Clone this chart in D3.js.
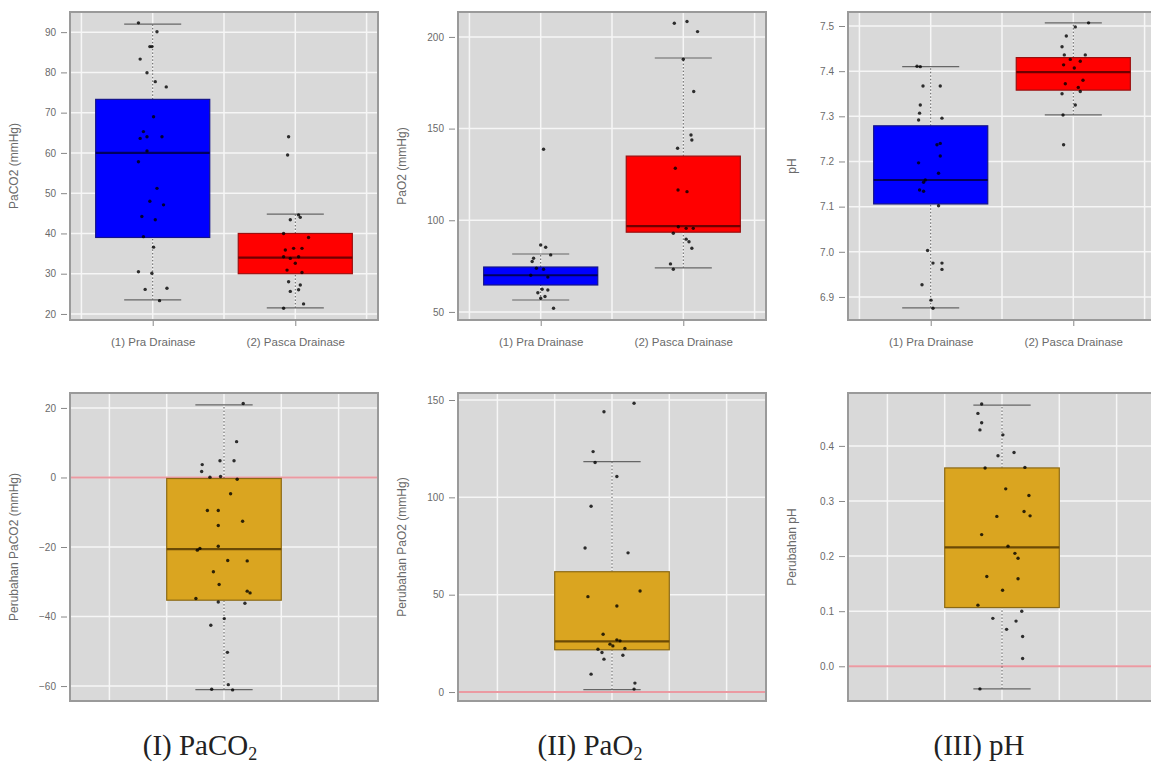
<!DOCTYPE html>
<html>
<head>
<meta charset="utf-8">
<script src="https://cdnjs.cloudflare.com/ajax/libs/d3/7.8.5/d3.min.js"></script>
<style>
body { margin: 0; background: #fff; }
text { font-family: "Liberation Sans", Arial, sans-serif; }
</style>
</head>
<body>
<svg id="chart" width="1151" height="769"></svg>
<script>
// ---- data ----
var groupLabels = ['(1) Pra Drainase', '(2) Pasca Drainase'];
var captions = [['(I) PaCO', '2'], ['(II) PaO', '2'], ['(III) pH', '']];

// box stats: [lower whisker, q1, median, q3, upper whisker]
var paco2PraStats = [23.5, 39, 60, 73.3, 92];
var paco2PascaStats = [21.5, 30, 34, 40, 44.8];
var pao2PraStats = [56.5, 64.7, 70, 74.5, 81.6];
var pao2PascaStats = [74, 93.5, 96.8, 135, 188.5];
var phPraStats = [6.876, 7.106, 7.159, 7.279, 7.41];
var phPascaStats = [7.303, 7.358, 7.398, 7.43, 7.507];
var dPaco2Stats = [-61, -35.3, -20.6, -0.3, 20.9];
var dPao2Stats = [1.2, 21.7, 26, 61.8, 118.4];
var dPhStats = [-0.041, 0.1066, 0.216, 0.36, 0.474];

// jittered points: [jitter (x units), value]
var paco2PraPts = [[-0.10,92.3],[0.03,90.1],[-0.005,86.4],[-0.02,86.4],[-0.088,83.3],[-0.04,79.9],[0.018,77.7],[0.095,76.4],
  [0.006,69],[-0.065,65.3],[-0.04,64],[0.065,64],[-0.088,63.6],[-0.04,60.5],[-0.1,57.8],[0.03,51.2],[-0.02,48],[0.076,47.1],
  [-0.076,44.2],[0.018,43.4],[-0.065,39.2],[0.006,36.6],[-0.1,30.5],[-0.006,30.1],[-0.053,26.1],[0.1,26.4],[0.048,23.3]];
var paco2PascaPts = [[-0.047,64],[-0.054,59.5],[0.023,44.6],[0.035,44],[-0.035,43.4],[-0.082,40],[0.093,39],[-0.07,35.9],
  [-0.012,36.3],[0.047,36.3],[-0.082,34.2],[-0.035,33.8],[0.023,34.2],[0,32.6],[-0.058,30.9],[0.047,30.3],[-0.047,28],
  [0.035,27.2],[-0.035,25.6],[0.023,26],[-0.082,21.4],[0.058,22.5]];
var pao2PraPts = [[0.02,138.7],[0,86.5],[0.035,85.3],[0.07,81.1],[-0.06,77.5],[-0.05,79.3],[-0.03,73.8],[0.02,73.3],
  [-0.07,70],[0.05,69],[0.01,62.4],[0.05,62],[-0.02,60.5],[0.03,58.4],[0,57.5],[0.09,52]];
var pao2PascaPts = [[-0.063,207.5],[0.026,208.4],[0.1,202.9],[0,187.8],[0.073,170.2],[0.054,146.5],[0.06,143.8],[-0.04,139.3],
  [-0.056,128.4],[-0.037,116.5],[0.026,115.6],[-0.035,96.5],[0.02,95.6],[0.07,95.6],[-0.07,92.9],[0.02,89.7],[0.04,88.3],
  [0.06,84.7],[-0.09,76.2],[-0.07,73.3]];
var phPraPts = [[-0.096,7.411],[-0.073,7.41],[-0.054,7.367],[0.067,7.367],[-0.073,7.325],[-0.078,7.307],[-0.085,7.292],
  [0.079,7.296],[0.067,7.24],[0.044,7.237],[-0.085,7.197],[0.067,7.212],[0.055,7.174],[-0.038,7.159],[-0.05,7.154],
  [-0.078,7.137],[-0.05,7.134],[0.055,7.102],[-0.022,7.003],[0.016,6.975],[0.079,6.975],[0.079,6.961],[-0.061,6.927],
  [0.002,6.893],[0.016,6.875]];
var phPascaPts = [[0.107,7.507],[0.014,7.498],[-0.049,7.478],[-0.079,7.454],[-0.063,7.436],[0.084,7.436],[-0.021,7.426],
  [0.049,7.422],[-0.068,7.414],[0.007,7.407],[0.068,7.38],[-0.056,7.372],[0.035,7.364],[0.049,7.355],[-0.079,7.35],
  [0.014,7.325],[-0.072,7.303],[-0.068,7.237]];
var dPaco2Pts = [[0.067,21.3],[0.044,10.3],[-0.014,4.8],[0.035,4.8],[-0.076,3.7],[-0.078,1.7],[-0.049,0.1],[-0.012,0.3],
  [0.046,-0.5],[0.023,-4.7],[-0.058,-9.5],[-0.02,-9.5],[-0.02,-13.8],[0.065,-12.6],[-0.084,-20.4],[-0.093,-20.9],
  [-0.02,-19.8],[0.013,-23.9],[0.081,-24],[-0.037,-27.1],[-0.017,-30.8],[0.081,-32.7],[0.091,-33.2],[-0.098,-34.8],
  [-0.02,-35.8],[0.073,-36.2],[0.001,-40.6],[-0.046,-42.5],[0.012,-50.3],[-0.043,-60.9],[0.03,-61.1],[0.015,-59.6]];
var dPao2Pts = [[0.077,148.3],[-0.028,144],[-0.066,123.5],[-0.059,117.9],[0.017,110.7],[-0.073,95.4],[-0.094,74],
  [0.056,71.5],[0.098,51.9],[-0.084,49],[0.017,44.2],[-0.031,29.7],[0.017,26.8],[0.028,26.3],[-0.007,24.6],[0.003,23.7],
  [-0.049,22],[0.045,22.4],[-0.035,20.3],[-0.028,16.9],[0.038,18.9],[-0.073,9.2],[0.08,4.6],[0.077,1.5]];
var dPhPts = [[-0.071,0.476],[-0.084,0.459],[-0.071,0.442],[-0.077,0.429],[0.003,0.42],[-0.014,0.382],[0.042,0.388],
  [-0.059,0.36],[0.08,0.361],[0.013,0.322],[0.094,0.31],[0.077,0.281],[0.098,0.273],[-0.018,0.272],[-0.071,0.239],
  [0.021,0.218],[0.045,0.205],[0.056,0.196],[-0.053,0.163],[0.056,0.159],[0.002,0.138],[-0.084,0.111],[0.069,0.1],
  [-0.032,0.087],[0.049,0.082],[0.016,0.067],[0.072,0.054],[0.072,0.014],[-0.077,-0.041]];

// ticks
var paco2Ticks = [20, 30, 40, 50, 60, 70, 80, 90];
var pao2Ticks = [50, 100, 150, 200];
var phTicks = [6.9, 7.0, 7.1, 7.2, 7.3, 7.4, 7.5];
var dPaco2Ticks = [-60, -40, -20, 0, 20];
var dPao2Ticks = [0, 50, 100, 150];
var dPhTicks = [0, 0.1, 0.2, 0.3, 0.4];

// ---- drawing ----
var svg = d3.select('#chart');
var panelW = 308, panelH = 308;
var cols = [70, 458, 848];
var rows = [12, 393];

var colors = {
	blue: {fill: '#0000ff', stroke: '#14148a', median: '#000060'},
	red: {fill: '#ff0000', stroke: '#9a1010', median: '#700000'},
	gold: {fill: '#daa520', stroke: '#8b6914', median: '#6b4a05'}
};

function drawPanel(opt) {
	var g = svg.append('g').attr('transform', 'translate(' + opt.x + ',' + opt.y + ')');
	var clipId = 'clip' + opt.x + '_' + opt.y;
	g.append('clipPath').attr('id', clipId).append('rect').attr('width', panelW).attr('height', panelH);

	var x = d3.scaleLinear().domain(opt.xDomain).range([0, panelW]);
	var y = d3.scaleLinear().domain(opt.yDomain).range([panelH, 0]);

	g.append('rect').attr('width', panelW).attr('height', panelH).attr('fill', '#d9d9d9');

	var inner = g.append('g').attr('clip-path', 'url(#' + clipId + ')');

	inner.selectAll('line.hgrid').data(opt.ticks).enter().append('line')
		.attr('x1', 0).attr('x2', panelW)
		.attr('y1', function(d) { return y(d); }).attr('y2', function(d) { return y(d); })
		.attr('stroke', '#f6f6f6').attr('stroke-width', 1.5);
	inner.selectAll('line.vgrid').data(opt.xGrid).enter().append('line')
		.attr('y1', 0).attr('y2', panelH)
		.attr('x1', function(d) { return x(d); }).attr('x2', function(d) { return x(d); })
		.attr('stroke', '#f6f6f6').attr('stroke-width', 1.5);

	opt.boxes.forEach(function(b) {
		var s = b.stats, c = colors[b.color];
		var bx = g.append('g');
		var half = b.width / 2;
		// whiskers
		[[s[0], s[1]], [s[3], s[4]]].forEach(function(w) {
			bx.append('line')
				.attr('x1', x(b.pos)).attr('x2', x(b.pos))
				.attr('y1', y(w[0])).attr('y2', y(w[1]))
				.attr('stroke', '#555').attr('stroke-width', 1).attr('stroke-dasharray', '1.5,2');
		});
		[s[0], s[4]].forEach(function(v) {
			bx.append('line')
				.attr('x1', x(b.pos - half / 2)).attr('x2', x(b.pos + half / 2))
				.attr('y1', y(v)).attr('y2', y(v))
				.attr('stroke', '#666').attr('stroke-width', 1.2);
		});
		bx.append('rect')
			.attr('x', x(b.pos - half)).attr('width', x(b.pos + half) - x(b.pos - half))
			.attr('y', y(s[3])).attr('height', y(s[1]) - y(s[3]))
			.attr('fill', c.fill)
			.attr('stroke', c.stroke).attr('stroke-width', 1.2);
		bx.append('line')
			.attr('x1', x(b.pos - half)).attr('x2', x(b.pos + half))
			.attr('y1', y(s[2])).attr('y2', y(s[2]))
			.attr('stroke', c.median).attr('stroke-width', 2.2);
		bx.selectAll('circle').data(b.pts).enter().append('circle')
			.attr('cx', function(d) { return x(b.pos + d[0]); })
			.attr('cy', function(d) { return y(d[1]); })
			.attr('r', 1.7)
			.attr('fill', '#000')
			.attr('fill-opacity', 0.8);
	});

	if (opt.refLine !== undefined) {
		inner.append('line')
			.attr('x1', 0).attr('x2', panelW)
			.attr('y1', y(opt.refLine)).attr('y2', y(opt.refLine))
			.attr('stroke', '#eb9aa2').attr('stroke-width', 2);
	}

	g.append('rect').attr('width', panelW).attr('height', panelH)
		.attr('fill', 'none').attr('stroke', '#9a9a9a').attr('stroke-width', 2);

	var yAxis = d3.axisLeft(y).tickValues(opt.ticks).tickSize(6).tickPadding(8).tickFormat(opt.fmt);
	var ya = g.append('g').call(yAxis);
	ya.select('.domain').remove();
	ya.selectAll('line').attr('stroke', '#888').attr('transform', 'translate(-3,0)');
	ya.selectAll('text').attr('fill', '#6a6a6a').style('font-size', '10px');

	if (opt.xLabels) {
		var xAxis = d3.axisBottom(x).tickValues([1, 2]).tickSize(5).tickPadding(12)
			.tickFormat(function(d) { return opt.xLabels[d - 1]; });
		var xa = g.append('g').attr('transform', 'translate(0,' + (panelH + 1) + ')').call(xAxis);
		xa.select('.domain').remove();
		xa.selectAll('line').attr('stroke', '#888');
		xa.selectAll('text').attr('fill', '#6a6a6a').style('font-size', '11.5px');
	}

	g.append('text')
		.attr('transform', 'translate(-52,' + (panelH / 2) + ') rotate(-90)')
		.attr('text-anchor', 'middle')
		.attr('fill', '#6a6a6a')
		.style('font-size', '12px')
		.text(opt.title);
}

var topX = [0.42, 2.58], botX = [0.4625, 1.5375];
var topGrid = [0.5, 1, 1.5, 2, 2.5], botGrid = [0.6, 0.8, 1, 1.2, 1.4];
var f0 = d3.format('d'), f1 = d3.format('.1f');

drawPanel({x: cols[0], y: rows[0], xDomain: topX, xGrid: topGrid, yDomain: [18.5, 95], ticks: paco2Ticks, fmt: f0,
	title: 'PaCO2 (mmHg)', xLabels: groupLabels,
	boxes: [{pos: 1, width: 0.8, stats: paco2PraStats, pts: paco2PraPts, color: 'blue'},
		{pos: 2, width: 0.8, stats: paco2PascaStats, pts: paco2PascaPts, color: 'red'}]});
drawPanel({x: cols[1], y: rows[0], xDomain: topX, xGrid: topGrid, yDomain: [45.6, 213.6], ticks: pao2Ticks, fmt: f0,
	title: 'PaO2 (mmHg)', xLabels: groupLabels,
	boxes: [{pos: 1, width: 0.8, stats: pao2PraStats, pts: pao2PraPts, color: 'blue'},
		{pos: 2, width: 0.8, stats: pao2PascaStats, pts: pao2PascaPts, color: 'red'}]});
drawPanel({x: cols[2], y: rows[0], xDomain: topX, xGrid: topGrid, yDomain: [6.849, 7.531], ticks: phTicks, fmt: f1,
	title: 'pH', xLabels: groupLabels,
	boxes: [{pos: 1, width: 0.8, stats: phPraStats, pts: phPraPts, color: 'blue'},
		{pos: 2, width: 0.8, stats: phPascaStats, pts: phPascaPts, color: 'red'}]});

drawPanel({x: cols[0], y: rows[1], xDomain: botX, xGrid: botGrid, yDomain: [-64.3, 24.3], ticks: dPaco2Ticks, fmt: f0,
	title: 'Perubahan PaCO2 (mmHg)', refLine: 0,
	boxes: [{pos: 1, width: 0.4, stats: dPaco2Stats, pts: dPaco2Pts, color: 'gold'}]});
drawPanel({x: cols[1], y: rows[1], xDomain: botX, xGrid: botGrid, yDomain: [-4.6, 153.6], ticks: dPao2Ticks, fmt: f0,
	title: 'Perubahan PaO2 (mmHg)', refLine: 0,
	boxes: [{pos: 1, width: 0.4, stats: dPao2Stats, pts: dPao2Pts, color: 'gold'}]});
drawPanel({x: cols[2], y: rows[1], xDomain: botX, xGrid: botGrid, yDomain: [-0.063, 0.496], ticks: dPhTicks, fmt: f1,
	title: 'Perubahan pH', refLine: 0,
	boxes: [{pos: 1, width: 0.4, stats: dPhStats, pts: dPhPts, color: 'gold'}]});

// captions under each column
var capX = [200, 590, 979];
captions.forEach(function(c, i) {
	var t = svg.append('text')
		.attr('x', capX[i]).attr('y', 755)
		.attr('text-anchor', 'middle')
		.style('font-family', '"Liberation Serif", "Times New Roman", serif')
		.style('font-size', '29px')
		.attr('fill', '#222');
	t.append('tspan').text(c[0]);
	if (c[1]) {
		t.append('tspan').attr('dy', 5).style('font-size', '18px').text(c[1]);
	}
});
</script>
</body>
</html>
